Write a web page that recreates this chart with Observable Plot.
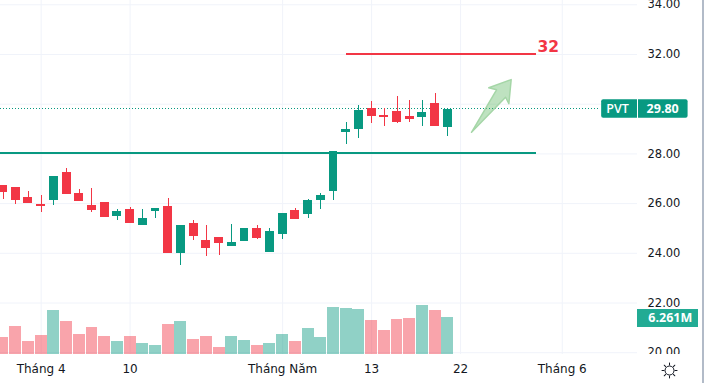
<!DOCTYPE html>
<html>
<head>
<meta charset="utf-8">
<script src="https://cdn.jsdelivr.net/npm/d3@7"></script>
<script src="https://cdn.jsdelivr.net/npm/@observablehq/plot@0.6"></script>
<style>
html,body{margin:0;padding:0;background:#fff;overflow:hidden}
#chart{position:relative;width:704px;height:383px;overflow:hidden}
#chart svg{position:absolute;left:0;display:block;max-width:none}
#edge{position:absolute;left:702px;top:0;width:2px;height:383px;background:#b2bbc8}
</style>
</head>
<body>
<div id="chart"></div>
<script>
const open  = [26.73,26.65,26.25,25.96,26.13,27.25,26.41,25.92,26.05,25.48,25.76,25.12,25.68,25.88,23.99,25.20,24.52,24.64,24.27,24.48,25.00,24.03,24.76,25.72,25.56,26.13,26.49,28.86,28.98,29.83,29.55,29.71,29.51,29.47,30.03,29.06];
const high  = [26.73,26.65,26.49,26.33,27.09,27.41,26.57,26.61,26.05,25.76,25.84,25.76,25.80,26.21,25.12,25.32,25.12,24.64,25.16,25.00,25.12,25.00,25.60,25.80,26.17,26.41,28.10,29.26,29.95,30.11,29.83,30.31,30.15,30.15,30.43,29.80];
const low   = [26.17,25.96,26.01,25.64,25.92,26.37,26.09,25.64,25.44,25.32,25.20,25.12,25.40,23.99,23.51,24.52,23.87,23.91,24.27,24.48,24.56,24.03,24.56,25.36,25.40,25.76,26.13,28.38,28.62,29.22,29.10,29.22,29.26,29.10,29.10,28.70];
const close = [26.45,26.13,26.01,25.88,27.09,26.37,26.09,25.72,25.44,25.68,25.20,25.40,25.80,23.99,25.12,24.68,24.19,24.40,24.44,25.00,24.60,24.88,25.60,25.36,26.13,26.33,28.10,28.98,29.75,29.51,29.47,29.26,29.39,29.67,29.10,29.80];
const volume = [2.84,4.72,2.16,3.18,7.45,5.57,3.36,4.55,3.01,2.16,3.01,1.82,1.48,5.06,5.57,2.50,3.01,1.14,3.01,2.33,1.48,1.82,3.36,2.16,4.38,2.84,7.96,7.79,7.62,5.74,4.04,5.91,6.09,8.30,7.45,6.261];

const gridRows = [34,32,30,28,26,24,22,20];
const priceLabels = [34,32,28,26,24,22,20];
const timeIdx = [3,10,22,29,36,44];
const timeLabels = ["Tháng 4","10","Tháng Năm","13","22","Tháng 6"];

const arrowX = [36.86,38.83,38.22,39.98,39.80,39.54,36.86];
const arrowY = [28.87,30.58,30.66,30.99,30.02,30.28,28.87];

const GREEN = "#089981", RED = "#F23645", INK = "#131722", GRID = "#f0f3fa";
const FONT = "'DejaVu Sans', sans-serif";
const BADGE_FONT = "'Open Sans', sans-serif";

const rows = open.map((o,i)=>({i,o,h:high[i],l:low[i],c:close[i],v:volume[i],up:close[i]>=o}));
const W = 704, H = 354;
const xOpt = {domain:[-0.197,49.92]};
const priceY = {domain:[19.928,34.173]};
const base = {width:W,marginLeft:0,marginTop:0,marginBottom:0,marginRight:67,x:{...xOpt,axis:null},
  style:{background:"transparent",fontFamily:FONT,fontSize:"11.5px",color:INK}};

const gridLayer = Plot.plot({...base,height:H,y:{...priceY,axis:null},marks:[
  Plot.gridY(gridRows,{stroke:GRID,strokeOpacity:1,strokeWidth:1}),
  Plot.gridX(timeIdx,{stroke:GRID,strokeOpacity:1,strokeWidth:1})
]});

const volLayer = Plot.plot({...base,height:H,y:{domain:[0,60.39],axis:null},marks:[
  Plot.rect(rows,{x1:d=>d.i-0.47,x2:d=>d.i+0.47,y1:()=>0,y2:"v",fill:d=>d.up?GREEN:RED,fillOpacity:0.45,shapeRendering:"crispEdges"}),
  Plot.rect([6.261],{x1:()=>49.92,x2:()=>54.69,y1:()=>4.61,y2:()=>7.75,fill:"#22AB94",shapeRendering:"crispEdges"}),
  Plot.text(["6.261M"],{x:()=>52.5,y:()=>6.18,text:d=>d,fill:"#fff",fontWeight:"bold",fontSize:12.5,fontFamily:BADGE_FONT})
]});

const priceLayer = Plot.plot({...base,height:H,y:{...priceY},marks:[
  Plot.axisY(priceLabels,{anchor:"right",tickFormat:d3.format(".2f"),tickSize:0,tickPadding:10,label:null,fill:INK}),
  Plot.ruleY([29.8],{x1:()=>-0.2,x2:()=>47,dy:-0.67,stroke:GREEN,strokeWidth:1,strokeDasharray:"1,2",shapeRendering:"crispEdges"}),
  Plot.ruleX(rows,{x:"i",y1:"l",y2:"h",stroke:d=>d.up?GREEN:RED,strokeWidth:1,shapeRendering:"crispEdges"}),
  Plot.rect(rows,{x1:d=>d.i-0.35,x2:d=>d.i+0.35,y1:"o",y2:"c",fill:d=>d.up?GREEN:RED,shapeRendering:"crispEdges"}),
  Plot.ruleY([28.02],{x1:()=>-0.2,x2:()=>42,stroke:GREEN,strokeWidth:2,shapeRendering:"crispEdges"}),
  Plot.ruleY([32],{x1:()=>27,x2:()=>42,dy:-0.5,stroke:RED,strokeWidth:2,shapeRendering:"crispEdges"}),
  Plot.text(["32"],{x:()=>42.05,y:()=>32.3,text:d=>d,fill:RED,fontWeight:"bold",fontSize:15.5,textAnchor:"start"}),
  Plot.line(arrowX.map((x,k)=>({x,y:arrowY[k]})),{x:"x",y:"y",z:null,curve:"linear",stroke:"#a5d6a7",strokeWidth:1.5,fill:"#4caf50",fillOpacity:0.36}),
  Plot.rect([29.8],{x1:()=>47.1,x2:()=>53.9,y1:()=>29.43,y2:()=>30.18,fill:GREEN,rx:2}),
  Plot.ruleX([49.92],{y1:()=>29.43,y2:()=>30.18,stroke:"#fff",strokeWidth:1,shapeRendering:"crispEdges"}),
  Plot.text(["PVT"],{x:()=>48.35,y:()=>29.8,text:d=>d,fill:"#fff",fontWeight:600,fontSize:12.5,fontFamily:BADGE_FONT}),
  Plot.text(["29.80"],{x:()=>51.9,y:()=>29.8,text:d=>d,fill:"#fff",fontWeight:"bold",fontSize:12.5,fontFamily:BADGE_FONT})
]});

const timeLayer = Plot.plot({...base,height:29,y:{axis:null},marks:[
  Plot.text(timeIdx,{x:d=>d,text:(d,k)=>timeLabels[k],frameAnchor:"middle",fill:INK,fontSize:12}),
  Plot.dot([0],{x:()=>52.44,frameAnchor:"middle",dy:1.5,r:4.5,stroke:INK,strokeWidth:1,fill:"none"}),
  Plot.vector([0,45,90,135,180,225,270,315],{x:()=>52.44,frameAnchor:"middle",dy:1.5,rotate:d=>d,length:2,anchor:"start",stroke:INK,strokeWidth:1,
    shape:{draw(c){c.moveTo(0,-5.5);c.lineTo(0,-7.5);}}})
]});

const root = document.getElementById("chart");
[gridLayer,volLayer,priceLayer].forEach(s=>{s.style.top="0px";root.appendChild(s);});
timeLayer.style.top="354px";root.appendChild(timeLayer);
const edge=document.createElement("div");edge.id="edge";root.appendChild(edge);
</script>
</body>
</html>
